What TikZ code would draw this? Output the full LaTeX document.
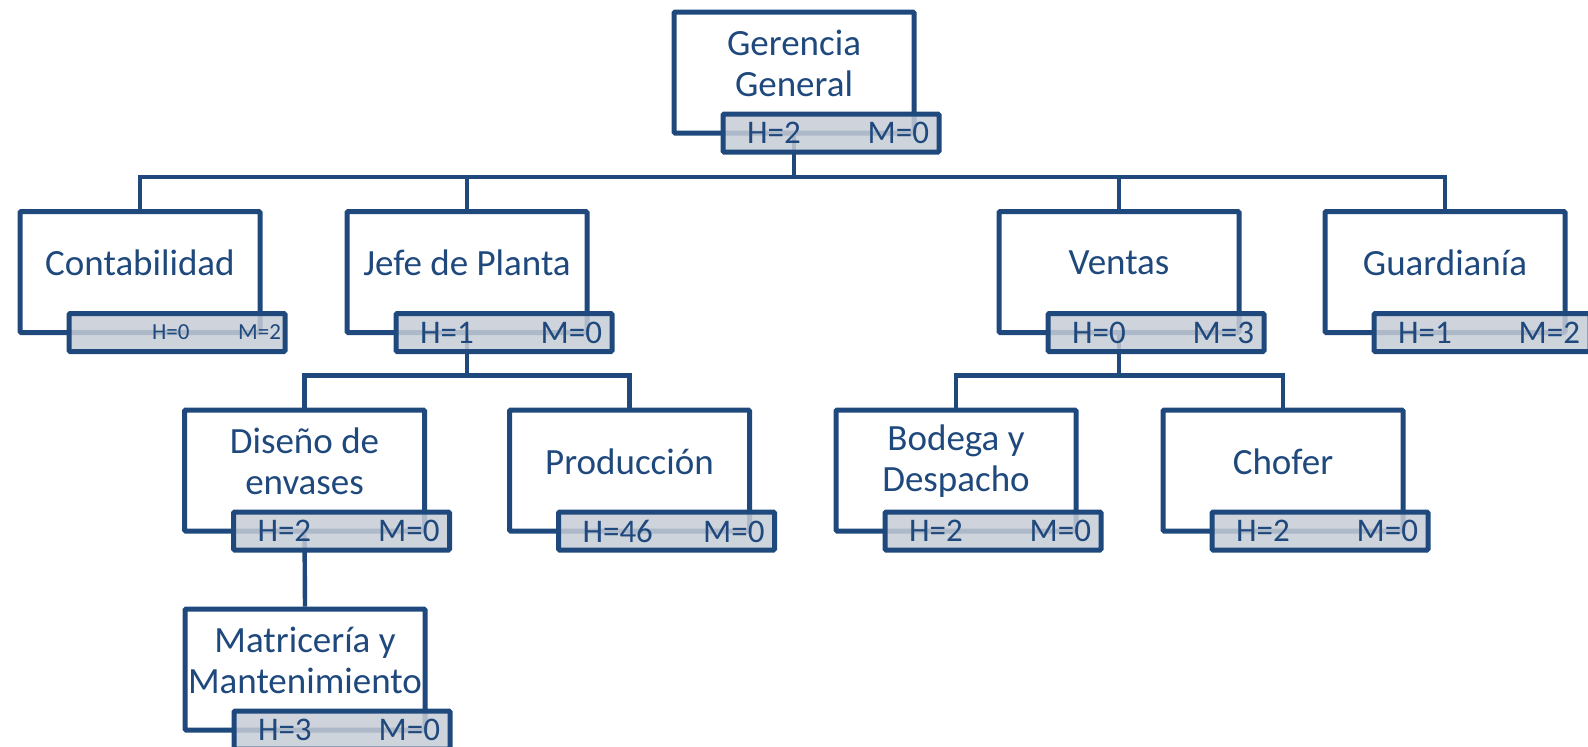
\documentclass[tikz,border=0pt]{standalone}
\usepackage{fontspec}
\setmainfont{Carlito}
\usepackage{tikz}

\definecolor{orgblue}{HTML}{1F497D}
\definecolor{countfill}{RGB}{198,204,214}

\tikzset{
  unitbox/.style={draw=orgblue, line width=2.5pt, fill=white, rounded corners=0.6pt,
    minimum width=120pt, minimum height=60.5pt, inner sep=0pt},
  unittext/.style={text=orgblue, align=center, inner sep=0pt,
    font=\fontsize{18.5}{20.5}\selectfont},
  countbox/.style={draw=orgblue, line width=2.5pt, fill=countfill, fill opacity=0.85,
    text opacity=1, text=orgblue, rounded corners=0.6pt, minimum width=108pt,
    minimum height=19pt, inner xsep=5pt, inner ysep=0pt, anchor=north west,
    font=\fontsize{16.5}{18}\selectfont},
  link/.style={draw=orgblue, line width=2.2pt},
}

\begin{document}
\begin{tikzpicture}[x=0.5pt,y=-0.5pt]
\useasboundingbox (0,0) rectangle (1588,746);
\clip (0,0) rectangle (1588,746);

% units
\node[unitbox] (gg) at (794,72.5) {};
\node[unittext] (gg-t) at ([yshift=4.5pt]gg.center) {Gerencia\\General};
\node[unitbox] (cont) at (140,272) {};
\node[unittext] (cont-t) at ([yshift=4.5pt]cont.center) {Contabilidad};
\node[unitbox] (jefe) at (467,272) {};
\node[unittext] (jefe-t) at ([yshift=4.5pt]jefe.center) {Jefe de Planta};
\node[unitbox] (vent) at (1119,272) {};
\node[unittext] (vent-t) at ([yshift=4.5pt]vent.center) {Ventas};
\node[unitbox] (guard) at (1445,272) {};
\node[unittext] (guard-t) at ([yshift=4.5pt]guard.center) {Guardianía};
\node[unitbox] (dis) at (304.5,470.5) {};
\node[unittext] (dis-t) at ([yshift=4.5pt]dis.center) {Diseño de\\envases};
\node[unitbox] (prod) at (629.5,470.5) {};
\node[unittext] (prod-t) at ([yshift=4.5pt]prod.center) {Producción};
\node[unitbox] (bod) at (956,470.5) {};
\node[unittext] (bod-t) at ([yshift=4.5pt]bod.center) {Bodega y\\Despacho};
\node[unitbox] (chof) at (1283,470.5) {};
\node[unittext] (chof-t) at ([yshift=4.5pt]chof.center) {Chofer};
\node[unitbox] (mat) at (305,669.5) {};
\node[unittext] (mat-t) at ([yshift=4.5pt]mat.center) {Matricería y\\Mantenimiento};

% links
\draw[link] (gg.south) |- ([yshift=16pt]cont.north) -- (cont.north);
\draw[link] (gg.south) |- ([yshift=16pt]jefe.north) -- (jefe.north);
\draw[link] (gg.south) |- ([yshift=16pt]vent.north) -- (vent.north);
\draw[link] (gg.south) |- ([yshift=16pt]guard.north) -- (guard.north);
\draw[link] (jefe.south) |- ([yshift=16pt]dis.north) -- (dis.north);
\draw[link] (jefe.south) |- ([yshift=16pt]prod.north) -- (prod.north);
\draw[link] (vent.south) |- ([yshift=16pt]bod.north) -- (bod.north);
\draw[link] (vent.south) |- ([yshift=16pt]chof.north) -- (chof.north);
\draw[link] (dis.south) -- (mat.north);

% head counts
\node[countbox] (gg-hm) at ([xshift=24.5pt,yshift=12pt]gg.south west)
  {\makebox[98pt]{\hspace*{7pt}H=2\hfill M=0}};
\node[countbox] (cont-hm) at ([xshift=24.5pt,yshift=12pt]cont.south west)
  {\makebox[98pt]{\fontsize{11.5}{13}\selectfont\hspace*{36.5pt}H=0\hfill M=2\hspace*{-3pt}}};
\node[countbox] (jefe-hm) at ([xshift=24.5pt,yshift=12pt]jefe.south west)
  {\makebox[98pt]{\hspace*{7pt}H=1\hfill M=0}};
\node[countbox] (vent-hm) at ([xshift=24.5pt,yshift=12pt]vent.south west)
  {\makebox[98pt]{\hspace*{7pt}H=0\hfill M=3}};
\node[countbox] (guard-hm) at ([xshift=24.5pt,yshift=12pt]guard.south west)
  {\makebox[98pt]{\hspace*{7pt}H=1\hfill M=2}};
\node[countbox] (dis-hm) at ([xshift=24.5pt,yshift=12pt]dis.south west)
  {\makebox[98pt]{\hspace*{7pt}H=2\hfill M=0}};
\node[countbox] (prod-hm) at ([xshift=24.5pt,yshift=12pt]prod.south west)
  {\makebox[98pt]{\hspace*{7pt}H=46\hfill M=0}};
\node[countbox] (bod-hm) at ([xshift=24.5pt,yshift=12pt]bod.south west)
  {\makebox[98pt]{\hspace*{7pt}H=2\hfill M=0}};
\node[countbox] (chof-hm) at ([xshift=24.5pt,yshift=12pt]chof.south west)
  {\makebox[98pt]{\hspace*{7pt}H=2\hfill M=0}};
\node[countbox] (mat-hm) at ([xshift=24.5pt,yshift=12pt]mat.south west)
  {\makebox[98pt]{\hspace*{7pt}H=3\hfill M=0}};
\end{tikzpicture}
\end{document}
